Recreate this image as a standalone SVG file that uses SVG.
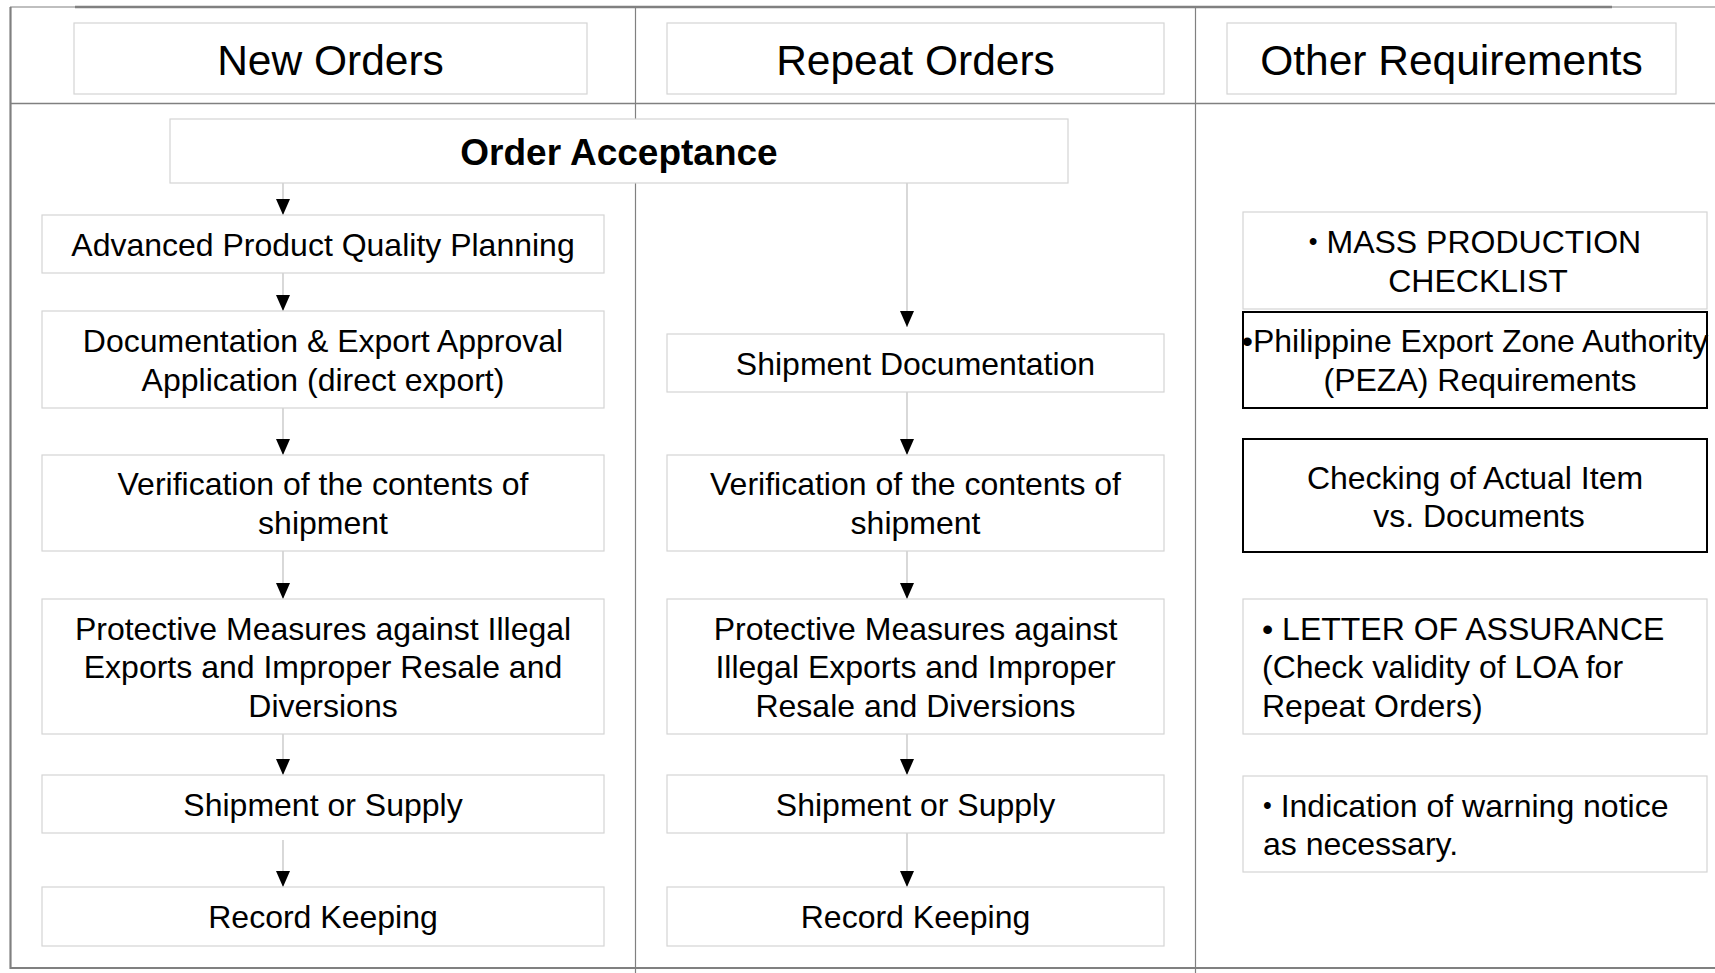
<svg xmlns="http://www.w3.org/2000/svg" width="1715" height="973" viewBox="0 0 1715 973">
  <style>
    text { font-family: "Liberation Sans", Arial, sans-serif; fill: #000; }
    .hdr { font-size: 42.5px; text-anchor: middle; }
    .t { font-size: 32px; text-anchor: middle; }
    .tl { font-size: 32px; text-anchor: start; }
    .bold { font-size: 37px; font-weight: bold; text-anchor: middle; }
    .box { fill: #fff; stroke: #d4d4d4; stroke-width: 1.2; }
    .boxk { fill: #fff; stroke: #000; stroke-width: 2; }
    .frame { stroke: #808080; fill: none; }
    .conn { stroke: #c4c4c4; stroke-width: 1.3; fill: none; marker-end: url(#arrow); }
    .sb { font-size: 25px; }
  </style>
  <defs>
    <marker id="arrow" markerUnits="userSpaceOnUse" viewBox="0 0 16 14" markerWidth="16" markerHeight="14" refX="16" refY="7" orient="auto">
      <path d="M0,0 L16,7 L0,14 Z" fill="#000"/>
    </marker>
  </defs>
  <rect width="1715" height="973" fill="#fff"/>

  <!-- table frame -->
  <g id="frame">
    <line class="frame" x1="10" y1="7" x2="75" y2="7" stroke-width="1.2" stroke="#999"/>
    <line class="frame" x1="75" y1="7" x2="1612" y2="7" stroke-width="2.6"/>
    <line class="frame" x1="1612" y1="7" x2="1715" y2="7" stroke-width="1.2" stroke="#999"/>
    <line class="frame" x1="10.5" y1="7" x2="10.5" y2="969" stroke-width="2.2"/>
    <line class="frame" x1="10" y1="103.5" x2="1715" y2="103.5" stroke-width="1.6"/>
    <line class="frame" x1="10" y1="968" x2="1715" y2="968" stroke-width="2.2"/>
    <line class="frame" x1="635.5" y1="7" x2="635.5" y2="973" stroke-width="1.2" stroke="#8a8a8a"/>
    <line class="frame" x1="1195.5" y1="7" x2="1195.5" y2="973" stroke-width="1.2" stroke="#8a8a8a"/>
  </g>

  <!-- column headers -->
  <g id="hdr-new"><rect class="box" x="74" y="23" width="513" height="71"/><text class="hdr" x="330.5" y="75">New Orders</text></g>
  <g id="hdr-repeat"><rect class="box" x="667" y="23" width="497" height="71"/><text class="hdr" x="915.5" y="75">Repeat Orders</text></g>
  <g id="hdr-other"><rect class="box" x="1227" y="23" width="449" height="71"/><text class="hdr" x="1451.5" y="75">Other Requirements</text></g>

  <!-- connectors -->
  <g id="connectors">
    <line class="conn" x1="283" y1="183" x2="283" y2="215"/>
    <line class="conn" x1="283" y1="273" x2="283" y2="311"/>
    <line class="conn" x1="283" y1="408" x2="283" y2="455"/>
    <line class="conn" x1="283" y1="551" x2="283" y2="599"/>
    <line class="conn" x1="283" y1="734" x2="283" y2="775"/>
    <line class="conn" x1="283" y1="840" x2="283" y2="887"/>
    <line class="conn" x1="907" y1="183" x2="907" y2="327"/>
    <line class="conn" x1="907" y1="392" x2="907" y2="455"/>
    <line class="conn" x1="907" y1="551" x2="907" y2="599"/>
    <line class="conn" x1="907" y1="734" x2="907" y2="775"/>
    <line class="conn" x1="907" y1="833" x2="907" y2="887"/>
  </g>

  <!-- shared start -->
  <g id="order-acceptance"><rect class="box" x="170" y="119" width="898" height="64"/><text class="bold" x="619" y="165">Order Acceptance</text></g>

  <!-- new orders flow -->
  <g id="n-apqp"><rect class="box" x="42" y="215" width="562" height="58"/><text class="t" x="323" y="256">Advanced Product Quality Planning</text></g>
  <g id="n-doc"><rect class="box" x="42" y="311" width="562" height="97"/><text class="t" x="323" y="352">Documentation &amp; Export Approval</text><text class="t" x="323" y="390.5">Application (direct export)</text></g>
  <g id="n-verify"><rect class="box" x="42" y="455" width="562" height="96"/><text class="t" x="323" y="495">Verification of the contents of</text><text class="t" x="323" y="533.5">shipment</text></g>
  <g id="n-protect"><rect class="box" x="42" y="599" width="562" height="135"/><text class="t" x="323" y="639.5">Protective Measures against Illegal</text><text class="t" x="323" y="678">Exports and Improper Resale and</text><text class="t" x="323" y="716.5">Diversions</text></g>
  <g id="n-ship"><rect class="box" x="42" y="775" width="562" height="58"/><text class="t" x="323" y="816">Shipment or Supply</text></g>
  <g id="n-record"><rect class="box" x="42" y="887" width="562" height="59"/><text class="t" x="323" y="928">Record Keeping</text></g>

  <!-- repeat orders flow -->
  <g id="r-doc"><rect class="box" x="667" y="334" width="497" height="58"/><text class="t" x="915.5" y="375">Shipment Documentation</text></g>
  <g id="r-verify"><rect class="box" x="667" y="455" width="497" height="96"/><text class="t" x="915.5" y="495">Verification of the contents of</text><text class="t" x="915.5" y="533.5">shipment</text></g>
  <g id="r-protect"><rect class="box" x="667" y="599" width="497" height="135"/><text class="t" x="915.5" y="639.5">Protective Measures against</text><text class="t" x="915.5" y="678">Illegal Exports and Improper</text><text class="t" x="915.5" y="716.5">Resale and Diversions</text></g>
  <g id="r-ship"><rect class="box" x="667" y="775" width="497" height="58"/><text class="t" x="915.5" y="816">Shipment or Supply</text></g>
  <g id="r-record"><rect class="box" x="667" y="887" width="497" height="59"/><text class="t" x="915.5" y="928">Record Keeping</text></g>

  <!-- other requirements -->
  <g id="o-mass"><rect class="box" x="1243" y="212" width="464" height="97"/><text class="t" x="1475" y="253"><tspan class="sb" dy="-3">•</tspan><tspan dy="3"> MASS PRODUCTION</tspan></text><text class="t" x="1478" y="292">CHECKLIST</text></g>
  <g id="o-peza"><rect class="boxk" x="1243" y="312" width="464" height="96"/><text class="t" x="1475" y="352">•Philippine Export Zone Authority</text><text class="t" x="1480" y="391">(PEZA) Requirements</text></g>
  <g id="o-check"><rect class="boxk" x="1243" y="439" width="464" height="113"/><text class="t" x="1475" y="488.5">Checking of Actual Item</text><text class="t" x="1479" y="527">vs. Documents</text></g>
  <g id="o-loa"><rect class="box" x="1243" y="599" width="464" height="135"/><text class="tl" x="1262" y="639.5">• LETTER OF ASSURANCE</text><text class="tl" x="1262" y="678">(Check validity of LOA for</text><text class="tl" x="1262" y="716.5">Repeat Orders)</text></g>
  <g id="o-warn"><rect class="box" x="1243" y="776" width="464" height="96"/><text class="tl" x="1263" y="816.5"><tspan class="sb" dy="-3">•</tspan><tspan dy="3"> Indication of warning notice</tspan></text><text class="tl" x="1263" y="855">as necessary.</text></g>
</svg>
